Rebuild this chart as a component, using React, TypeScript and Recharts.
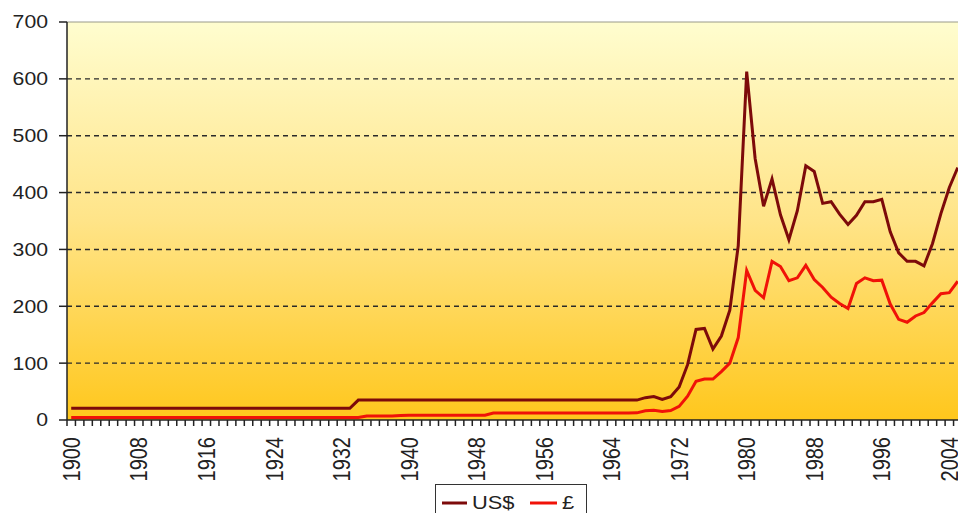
import React from "react"
import { LineChart, Line, XAxis, YAxis, CartesianGrid, ReferenceLine } from "recharts"

// years 1900..2005, one point per year
const years = Array.from({ length: 106 }, (_, i) => 1900 + i)

// average gold price, US$ per ounce
const usd = [
  20.67, 20.67, 20.67, 20.67, 20.67, 20.67, 20.67, 20.67, 20.67, 20.67,
  20.67, 20.67, 20.67, 20.67, 20.67, 20.67, 20.67, 20.67, 20.67, 20.67,
  20.67, 20.67, 20.67, 20.67, 20.67, 20.67, 20.67, 20.67, 20.67, 20.67,
  20.67, 20.67, 20.67, 20.67, 35, 35, 35, 35, 35, 35,
  35, 35, 35, 35, 35, 35, 35, 35, 35, 35,
  35, 35, 35, 35, 35, 35, 35, 35, 35, 35,
  35, 35, 35, 35, 35, 35, 35, 35, 39.3, 41.3,
  36, 40.8, 58.2, 97.3, 159.3, 161, 124.8, 147.7, 193.2, 306.7,
  612.6, 460, 376, 424, 361, 317, 368, 447, 437, 381,
  384, 362, 344, 360, 384, 384, 388, 331, 294, 279,
  279, 271, 310, 363, 409, 444,
]

// average gold price, £ per ounce
const gbp = [
  4.25, 4.25, 4.25, 4.25, 4.25, 4.25, 4.25, 4.25, 4.25, 4.25,
  4.25, 4.25, 4.25, 4.25, 4.25, 4.25, 4.25, 4.25, 4.25, 4.25,
  4.25, 4.25, 4.25, 4.25, 4.25, 4.25, 4.25, 4.25, 4.25, 4.25,
  4.25, 4.25, 4.25, 4.25, 4.25, 7.1, 7, 7, 7.1, 7.7,
  8.4, 8.4, 8.4, 8.4, 8.4, 8.4, 8.4, 8.4, 8.4, 8.4,
  12.4, 12.4, 12.4, 12.4, 12.4, 12.4, 12.4, 12.4, 12.4, 12.4,
  12.4, 12.4, 12.4, 12.4, 12.4, 12.4, 12.4, 12.6, 16.4, 17.2,
  15, 16.7, 24, 42, 68, 72, 72, 85, 100, 145,
  263, 228, 215, 279, 270, 245, 250, 272, 247, 233,
  216, 205, 196, 240, 250, 245, 246, 204, 177, 172,
  183, 189, 206, 222, 224, 244,
]

const yTicks = [0, 100, 200, 300, 400, 500, 600, 700]
const labelYears = [1900, 1908, 1916, 1924, 1932, 1940, 1948, 1956, 1964, 1972, 1980, 1988, 1996, 2004]

const data = years.map((year, i) => ({ year, usd: usd[i], gbp: gbp[i] }))
// tick marks sit between the years
const minorTicks = years.map((y) => y - 0.5).concat(2005.5)

const font = "'Liberation Sans', Arial, sans-serif"
const usdColor = "#7d0a0a"
const gbpColor = "#f01208"

const chartW = 970
const leftW = 67
const rightM = 8
const halfYear = (chartW - leftW - rightM) / years.length / 2

const YTick = (props: any) => {
  const { x, y, payload } = props
  return (
    <text
      transform={`translate(${x},${y}) scale(1.18,1)`}
      textAnchor="end"
      dy="0.36em"
      fontSize={18}
      fontFamily={font}
      fill="#222"
    >
      {payload.value}
    </text>
  )
}

// ticks are between years; a label goes to the middle of its year
const YearTick = (props: any) => {
  const { x, y, payload } = props
  const year = payload.value + 0.5
  if (!labelYears.includes(year)) return <g />
  return (
    <text
      transform={`translate(${x + halfYear},${y + 11}) scale(1.2,1) rotate(-90)`}
      textAnchor="end"
      dy="0.36em"
      fontSize={20}
      fontFamily={font}
      fill="#222"
    >
      {year}
    </text>
  )
}

export default function App() {
  return (
    <div style={{ position: "absolute", left: 0, top: 0, width: 958, height: 513, overflow: "hidden", background: "#fff" }}>
      <LineChart width={chartW} height={513} data={data} margin={{ top: 22, right: rightM, left: 0, bottom: 37 }}>
        <defs>
          <linearGradient id="bgGrad" x1="0" y1="0" x2="0" y2="1">
            <stop offset="0%" stopColor="#fffdcf" />
            <stop offset="50%" stopColor="#ffe488" />
            <stop offset="100%" stopColor="#ffc71c" />
          </linearGradient>
        </defs>
        <CartesianGrid
          vertical={false}
          fill="url(#bgGrad)"
          horizontalValues={[100, 200, 300, 400, 500, 600]}
          stroke="#2a2a2a"
          strokeDasharray="5 4"
          strokeWidth={1.4}
        />
        <ReferenceLine y={700} stroke="#9a9a8a" strokeWidth={1} />
        <XAxis
          dataKey="year"
          type="number"
          domain={[1899.5, 2005.5]}
          ticks={minorTicks}
          interval={0}
          tick={<YearTick />}
          tickLine={{ stroke: "#222", strokeWidth: 1.5 }}
          tickSize={6}
          tickMargin={0}
          height={56}
          stroke="#222"
          strokeWidth={1.5}
          allowDataOverflow
        />
        <YAxis
          type="number"
          domain={[0, 700]}
          ticks={yTicks}
          interval={0}
          width={leftW}
          tickSize={8}
          tickMargin={11}
          tick={<YTick />}
          stroke="#222"
          strokeWidth={1.5}
        />
        <Line
          type="linear"
          dataKey="usd"
          stroke={usdColor}
          strokeWidth={3}
          dot={false}
          isAnimationActive={false}
        />
        <Line
          type="linear"
          dataKey="gbp"
          stroke={gbpColor}
          strokeWidth={3}
          dot={false}
          isAnimationActive={false}
        />
      </LineChart>
      <svg style={{ position: "absolute", left: 435, top: 484 }} width={153} height={29}>
        <rect x={0.5} y={0.5} width={151} height={40} fill="#fff" stroke="#333" strokeWidth={1} />
        <line x1={7} x2={32} y1={19} y2={19} stroke={usdColor} strokeWidth={3} />
        <text transform="translate(37,25) scale(1.15,1)" fontSize={19} fontFamily={font} fill="#222">
          US$
        </text>
        <line x1={95} x2={122} y1={19} y2={19} stroke={gbpColor} strokeWidth={3} />
        <text transform="translate(127,25) scale(1.15,1)" fontSize={19} fontFamily={font} fill="#222">
          £
        </text>
      </svg>
    </div>
  )
}
